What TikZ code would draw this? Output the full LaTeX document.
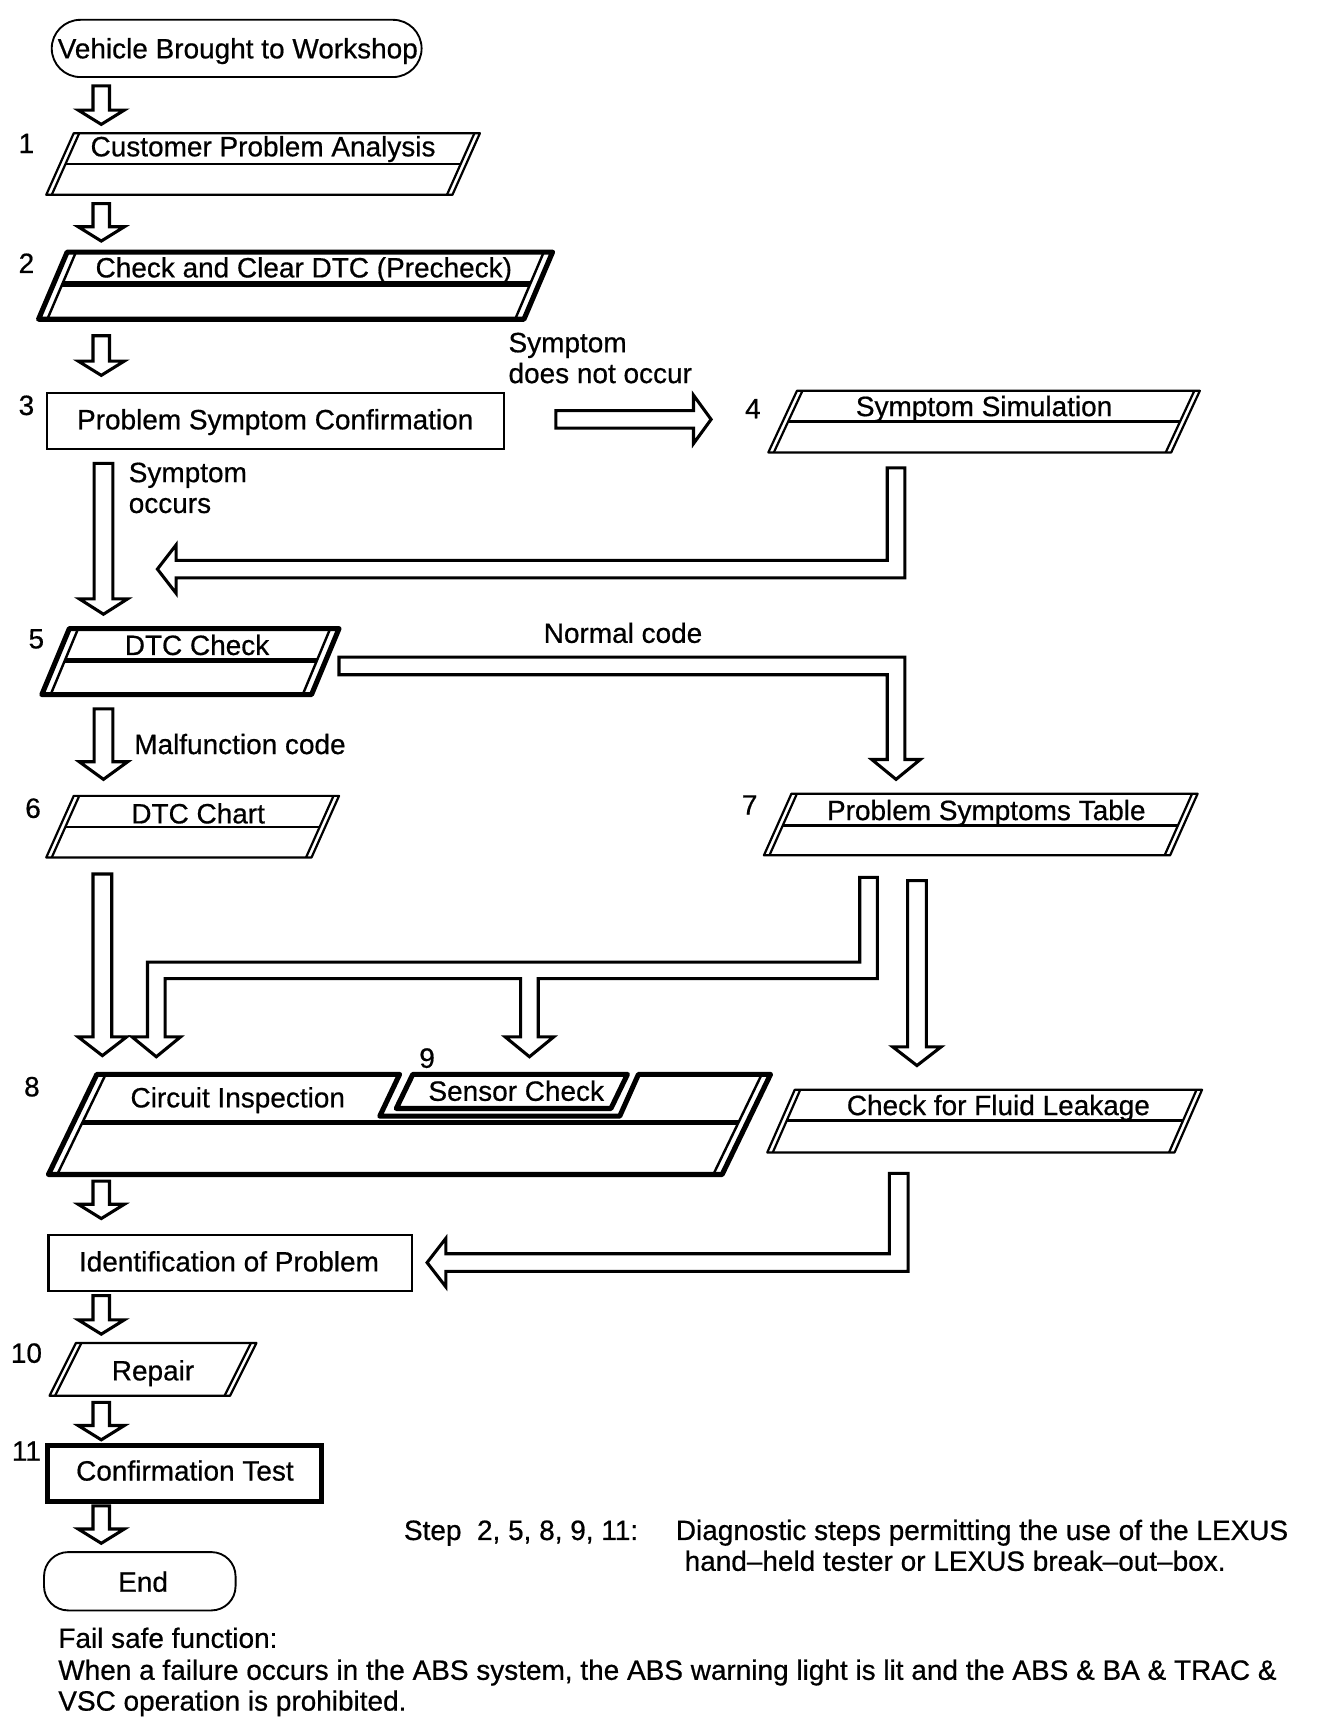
\documentclass[tikz,border=0pt]{standalone}
\usepackage{fontspec}
\setmainfont{Liberation Sans}[UprightFeatures={FakeBold=0.6}]
\newcommand{\fs}{\fontsize{25.4}{30}\selectfont}
\tikzset{
  txt/.style={font=\fs, inner sep=0pt, outer sep=0pt},
  thinln/.style={line width=2pt},
  thickln/.style={line width=4.6pt, line join=round},
  arr/.style={line width=2.8pt, line join=miter, fill=white},
}
% parallelogram: #1 outer lw, #2 inner lw, #3 gap, #4 top, #5 bottom, #6 top-left x, #7 top-right x, #8 slant, #9 mid y
\newcommand{\plgbox}[9]{%
  \draw[line width=#1, line join=round] (#6,#4) -- (#7,#4) -- ({#7-#8},#5) -- ({#6-#8},#5) -- cycle;
  \draw[line width=#2] ({#6+#3},#4) -- ({#6+#3-#8},#5);
  \draw[line width=#2] ({#7-#3},#4) -- ({#7-#3-#8},#5);
  \draw[line width=#1] ({#6+#3-#8*(#9-#4)/(#5-#4)},#9) -- ({#7-#3-#8*(#9-#4)/(#5-#4)},#9);
}
% block arrow down: centre x, top y, tip y, shaft half, head half, head length
\newcommand{\blockdown}[6]{%
  \draw[arr] ({#1-#4},#2) -- ({#1+#4},#2) -- ({#1+#4},{#3-#6}) -- ({#1+#5},{#3-#6}) -- (#1,#3) -- ({#1-#5},{#3-#6}) -- ({#1-#4},{#3-#6}) -- cycle;
}
\begin{document}
\begin{tikzpicture}[x=1pt,y=-1pt]
\fill[white] (0,0) rectangle (1206,1568);
\useasboundingbox (0,0) rectangle (1206,1568);

% ---------- start
\draw[line width=1.7pt, rounded corners=26pt] (47,18) rectangle (383,70);
\node[txt, anchor=base] (start) at (216,53) {Vehicle Brought to Workshop};
\blockdown{92}{78}{113}{7.5}{21}{13}

% ---------- 1
\node[txt, anchor=base] (n1) at (24,139) {1};
\plgbox{2pt}{2pt}{5}{121}{177}{67}{436}{25}{149}
\node[txt, anchor=base] (s1) at (239,142) {Customer Problem Analysis};
\blockdown{92}{185}{219}{7.5}{21}{13}

% ---------- 2
\node[txt, anchor=base] (n2) at (24,248) {2};
\plgbox{4.6pt}{2.2pt}{8}{229}{290}{61}{502}{26}{258}
\node[txt, anchor=base] (s2) at (276,252) {Check and Clear DTC (Precheck)};
\blockdown{92}{305}{341}{7.5}{21}{13}

% ---------- 3
\node[txt, anchor=base] (n3) at (24,377) {3};
\draw[thinln] (43,357) rectangle (458,408);
\node[txt, anchor=base] (s3) at (250,390) {Problem Symptom Confirmation};
\node[txt, anchor=base west] (l3a) at (462,320) {Symptom};
\node[txt, anchor=base west] (l3b) at (462,348) {does not occur};
\draw[arr] (505,373) -- (630,373) -- (630,359) -- (646,381) -- (630,403) -- (630,389) -- (505,389) -- cycle;

% ---------- 4
\node[txt, anchor=base] (n4) at (684,380) {4};
\plgbox{2pt}{2pt}{5}{355}{411}{724}{1090}{26}{383}
\node[txt, anchor=base] (s4) at (894,378) {Symptom Simulation};
\draw[arr] (806,425) -- (822,425) -- (822,525) -- (160,525) -- (160,539) -- (143,517) -- (160,495) -- (160,509) -- (806,509) -- cycle;

% symptom occurs
\blockdown{94}{421}{558}{8.5}{22}{14}
\node[txt, anchor=base west] (l4a) at (117,438) {Symptom};
\node[txt, anchor=base west] (l4b) at (117,466) {occurs};

% ---------- 5
\node[txt, anchor=base] (n5) at (33,589) {5};
\plgbox{4.6pt}{2.2pt}{8}{571}{631}{63}{308}{25}{600}
\node[txt, anchor=base] (s5) at (179,595) {DTC Check};
\node[txt, anchor=base] (l5) at (566,584) {Normal code};
\draw[arr] (308,597) -- (822,597) -- (822,690) -- (836,690) -- (814,708) -- (792,690) -- (806,690) -- (806,613) -- (308,613) -- cycle;
\blockdown{94}{644}{708}{8.5}{22}{16}
\node[txt, anchor=base west] (l6) at (122,685) {Malfunction code};

% ---------- 6
\node[txt, anchor=base] (n6) at (30,743) {6};
\plgbox{2pt}{2pt}{5}{723}{779}{67}{308}{25}{751}
\node[txt, anchor=base] (s6) at (180,748) {DTC Chart};
\blockdown{93}{794}{959}{8.5}{22}{17}

% ---------- 7
\node[txt, anchor=base] (n7) at (681,740) {7};
\plgbox{2pt}{2pt}{5}{721}{777}{719}{1088}{25}{750}
\node[txt, anchor=base] (s7) at (896,745) {Problem Symptoms Table};
\draw[arr] (781,797) -- (797,797) -- (797,889) -- (489,889) -- (489,942) -- (503,942) -- (481,960) -- (459,942) -- (473,942) -- (473,889) -- (150,889) -- (150,942) -- (164,942) -- (142,960) -- (120,942) -- (134,942) -- (134,874) -- (781,874) -- cycle;
\blockdown{833}{800}{968}{8.5}{22}{17}

% ---------- 8 / 9
\node[txt, anchor=base] (n8) at (29,996) {8};
\draw[thickln] (88,976) -- (363,976) -- (345,1014) -- (563,1014) -- (580,976) -- (700,976) -- (656,1067) -- (44,1067) -- cycle;
\draw[line width=2.2pt] (96,976) -- (52,1067);
\draw[line width=2.2pt] (692,976) -- (648,1067);
\draw[line width=4.2pt] (74.7,1020) -- (670.7,1020);
\draw[thickln] (375,976) -- (570,976) -- (555,1007) -- (360,1007) -- cycle;
\node[txt, anchor=base] (n9) at (388,970) {9};
\node[txt, anchor=base] (s8) at (216,1006) {Circuit Inspection};
\node[txt, anchor=base] (s9) at (469,1000) {Sensor Check};

% ---------- fluid leakage
\plgbox{2pt}{2pt}{5}{990}{1047}{722}{1092}{25}{1018}
\node[txt, anchor=base] (sf) at (907,1013) {Check for Fluid Leakage};
\draw[arr] (808,1066) -- (825,1066) -- (825,1155) -- (405,1155) -- (405,1169) -- (388,1147) -- (405,1125) -- (405,1139) -- (808,1139) -- cycle;

% ---------- identification
\blockdown{92}{1073}{1107}{7.5}{21}{13}
\draw[thinln] (44,1122) rectangle (374,1173);
\node[txt, anchor=base] (sid) at (208,1155) {Identification of Problem};
\blockdown{92}{1177}{1212}{7.5}{21}{13}

% ---------- 10
\node[txt, anchor=base] (n10) at (24,1238) {10};
\draw[thinln, line join=round] (69,1220) -- (233,1220) -- (209,1268) -- (45,1268) -- cycle;
\draw[thinln] (74,1220) -- (50,1268);
\draw[thinln] (228,1220) -- (204,1268);
\node[txt, anchor=base] (s10) at (139,1254) {Repair};
\blockdown{92}{1274}{1308}{7.5}{21}{13}

% ---------- 11
\node[txt, anchor=base] (n11) at (24,1327) {11};
\draw[line width=4.6pt] (43,1313) rectangle (292,1364);
\node[txt, anchor=base] (s11) at (168,1345) {Confirmation Test};
\blockdown{92}{1368}{1402}{7.5}{21}{13}

% ---------- end
\draw[line width=1.7pt, rounded corners=22pt] (40,1410) rectangle (214,1463);
\node[txt, anchor=base] (send) at (130,1446) {End};

% ---------- notes
\node[txt, anchor=base west] (st1) at (367,1399) {Step\ \ 2, 5, 8, 9, 11:};
\node[txt, anchor=base west] (st2) at (614,1399) {Diagnostic steps permitting the use of the LEXUS};
\node[txt, anchor=base west] (st3) at (622,1427) {hand–held tester or LEXUS break–out–box.};
\node[txt, anchor=base west] (fs1) at (53,1497) {Fail safe function:};
\node[txt, anchor=base west] (fs2) at (53,1526) {When a failure occurs in the ABS system, the ABS warning light is lit and the ABS \& BA \& TRAC \&};
\node[txt, anchor=base west] (fs3) at (53,1554) {VSC operation is prohibited.};
\end{tikzpicture}
\end{document}
